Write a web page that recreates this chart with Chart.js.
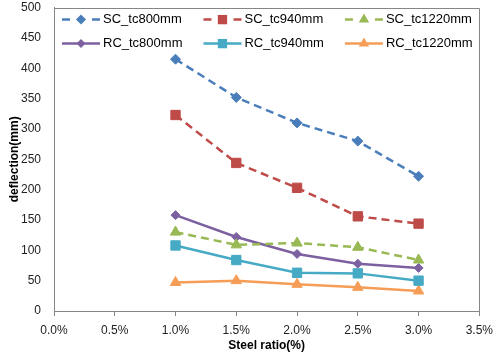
<!DOCTYPE html>
<html>
<head>
<meta charset="utf-8">
<script src="https://cdn.jsdelivr.net/npm/chart.js@4/dist/chart.umd.min.js"></script>
<style>
html,body{margin:0;padding:0;background:#fff;}
#wrap{position:relative;width:500px;height:356px;}
</style>
</head>
<body>
<div id="wrap"><canvas id="c" width="500" height="356"></canvas></div>
<script>
const steelRatio = [1.0, 1.5, 2.0, 2.5, 3.0];
const seriesNames = ["SC_tc800mm", "SC_tc940mm", "SC_tc1220mm", "RC_tc800mm", "RC_tc940mm", "RC_tc1220mm"];
const SC_tc800 = [415, 352, 310, 280, 222];
const SC_tc940 = [323, 244, 203, 156, 144];
const SC_tc1220 = [130, 109, 112, 105, 84];
const RC_tc800 = [158, 122, 94, 78, 71];
const RC_tc940 = [108, 84, 63, 62, 50];
const RC_tc1220 = [47, 50, 44, 39, 33];
const xTicks = [0, 0.5, 1.0, 1.5, 2.0, 2.5, 3.0, 3.5];
const yTicks = [0, 50, 100, 150, 200, 250, 300, 350, 400, 450, 500];

const colors = ["#4A7EBB", "#BE4B48", "#98B954", "#7D60A0", "#46AAC5", "#F59D56"];
const styles = ["rectRot", "rect", "triangle", "rectRot", "rect", "triangle"];
const radii = [5, 6.6, 6, 4.5, 6.6, 6];
const dashed = [true, true, true, false, false, false];
const values = [SC_tc800, SC_tc940, SC_tc1220, RC_tc800, RC_tc940, RC_tc1220];
const FONT = '"Liberation Sans", Arial, sans-serif';

const datasets = seriesNames.map((name, i) => ({
  label: name,
  data: steelRatio.map((x, k) => ({x: x, y: values[i][k]})),
  borderColor: colors[i],
  backgroundColor: colors[i],
  borderWidth: 2.5,
  borderDash: dashed[i] ? [8, 5] : [],
  pointStyle: styles[i],
  pointRadius: radii[i],
  pointHoverRadius: radii[i],
  pointBorderWidth: 1,
  pointBackgroundColor: colors[i],
  pointBorderColor: colors[i],
  tension: 0,
  fill: false
}));

function drawMarker(g, style, x, y, r) {
  g.beginPath();
  if (style === 'rectRot') {
    g.moveTo(x, y - r); g.lineTo(x + r, y); g.lineTo(x, y + r); g.lineTo(x - r, y);
  } else if (style === 'rect') {
    const s = r * Math.SQRT1_2;
    g.moveTo(x - s, y - s); g.lineTo(x + s, y - s); g.lineTo(x + s, y + s); g.lineTo(x - s, y + s);
  } else {
    const h = r * 0.866;
    g.moveTo(x, y - r); g.lineTo(x + h, y + r / 2); g.lineTo(x - h, y + r / 2);
  }
  g.closePath(); g.fill();
}

const boxLegendPlugin = {
  id: 'boxLegend',
  afterDraw(chart) {
    const a = chart.chartArea, ctx = chart.ctx;
    ctx.save();
    ctx.setLineDash([]);
    ctx.strokeStyle = '#868686';
    ctx.lineWidth = 1;
    const L = Math.round(a.left) + 0.5, T = Math.round(a.top) + 0.5;
    const R = Math.round(a.right) + 0.5, B = Math.round(a.bottom) + 0.5;
    ctx.beginPath();
    ctx.moveTo(L, T); ctx.lineTo(R, T); ctx.lineTo(R, B);
    ctx.stroke();
    // legend: 3 columns x 2 rows inside the plot area
    ctx.font = '13px ' + FONT;
    ctx.textBaseline = 'middle';
    ctx.textAlign = 'left';
    const ds = chart.data.datasets;
    const cols = 3, lineLen = 38, gap = 3, colGap = 21;
    let x = a.left + 8;
    for (let c = 0; c < cols; c++) {
      let w = 0;
      for (let r = 0; r < 2; r++) {
        const i = r * cols + c;
        w = Math.max(w, ctx.measureText(ds[i].label).width);
      }
      for (let r = 0; r < 2; r++) {
        const i = r * cols + c;
        const y = a.top + 12 + r * 24;
        ctx.strokeStyle = colors[i];
        ctx.fillStyle = colors[i];
        ctx.lineWidth = 2.5;
        ctx.beginPath();
        if (dashed[i]) {
          ctx.moveTo(x, y); ctx.lineTo(x + 8, y);
          ctx.moveTo(x + lineLen - 8, y); ctx.lineTo(x + lineLen, y);
        } else {
          ctx.moveTo(x, y); ctx.lineTo(x + lineLen, y);
        }
        ctx.stroke();
        drawMarker(ctx, styles[i], x + lineLen / 2, y, radii[i]);
        ctx.fillStyle = '#000';
        ctx.fillText(ds[i].label, x + lineLen + gap, y);
      }
      x += lineLen + gap + w + colGap;
    }
    ctx.restore();
  }
};

new Chart(document.getElementById('c'), {
  type: 'line',
  data: { datasets: datasets },
  plugins: [boxLegendPlugin],
  options: {
    responsive: false,
    animation: false,
    layout: { padding: { top: 4, right: 18, left: 0, bottom: 0 } },
    plugins: {
      tooltip: { enabled: false },
      legend: { display: false }
    },
    scales: {
      x: {
        type: 'linear',
        min: 0, max: 3.5,
        afterBuildTicks(s) { s.ticks = xTicks.map(v => ({value: v})); },
        afterFit(s) { s.height = 45; },
        grid: { display: true, drawOnChartArea: false, drawTicks: true, tickLength: 5, color: '#868686' },
        border: { display: true, color: '#868686' },
        ticks: {
          padding: 7,
          color: '#222',
          font: { family: FONT, size: 12 },
          callback: v => v.toFixed(1) + '%',
          maxRotation: 0
        },
        title: {
          display: true,
          text: 'Steel ratio(%)',
          color: '#000',
          padding: { top: 0, bottom: 3 },
          font: { family: FONT, size: 12, weight: 'bold' }
        }
      },
      y: {
        type: 'linear',
        min: 0, max: 500,
        afterBuildTicks(s) { s.ticks = yTicks.map(v => ({value: v})); },
        afterFit(s) { s.width = 54; },
        grid: { display: false, drawTicks: true, tickLength: 13 },
        border: { display: true, color: '#868686' },
        ticks: {
          padding: 0,
          color: '#222',
          font: { family: FONT, size: 12, lineHeight: 0.7 }
        },
        title: {
          display: true,
          text: 'deflection(mm)',
          color: '#000',
          padding: { top: 7, bottom: 0 },
          font: { family: FONT, size: 12, weight: 'bold' }
        }
      }
    }
  }
});
</script>
</body>
</html>
